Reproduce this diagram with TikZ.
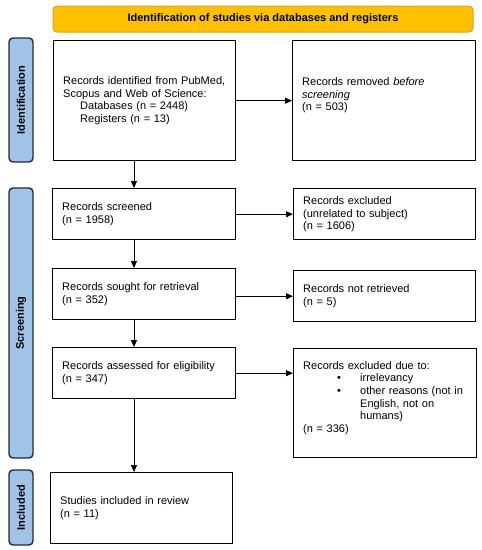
\documentclass[tikz,border=0pt]{standalone}
\usepackage{fontspec}
\setmainfont{Liberation Sans}
\usetikzlibrary{arrows.meta}
\definecolor{bannerfill}{HTML}{FFC000}
\definecolor{bannerdraw}{HTML}{D9A21B}
\definecolor{sidefill}{HTML}{A0C3E8}
\definecolor{sidedraw}{HTML}{1F2A38}
\begin{document}
\begin{tikzpicture}[x=1pt,y=-1pt,
  font=\fontsize{11}{12.6}\selectfont,
  box/.style={draw=black, line width=1.4pt, anchor=north west, align=left,
    inner xsep=9.5pt, inner ysep=2pt, minimum width=#1, text width=#1-19pt},
  side/.style={draw=sidedraw, fill=sidefill, line width=1.4pt, rounded corners=4pt,
    minimum width=24pt, inner sep=0pt, font=\fontsize{11}{12.6}\selectfont\bfseries},
  arr/.style={line width=0.9pt, -{Triangle[length=7pt,width=6pt]}}]
\useasboundingbox (0,0) rectangle (482,550);
% banner
\node[draw=bannerdraw, fill=bannerfill, line width=1pt, rounded corners=4pt,
  minimum width=420pt, minimum height=26pt, inner sep=0pt,
  font=\fontsize{11}{12.6}\selectfont\bfseries] (banner) at (263,19)
  {Identification of studies via databases and registers};
% side labels
\node[side, minimum height=124pt] (sid) at (21,100) {\rotatebox{90}{Identification}};
\node[side, minimum height=270pt] (ssc) at (21,323) {\rotatebox{90}{Screening}};
\node[side, minimum height=75pt] (sin) at (21,507.5) {\rotatebox{90}{Included}};
% boxes
\node[box=182pt, minimum height=120pt] (b1) at (53,40)
  {Records identified from PubMed,\\ Scopus and Web of Science:\\
   \hspace*{17pt}Databases (n = 2448)\\ \hspace*{17pt}Registers (n = 13)};
\node[box=183pt, minimum height=120pt] (b2) at (292,40)
  {Records removed \textit{before}\\ \textit{screening}\\ (n = 503)\\ \mbox{}};
\node[box=183pt, minimum height=51pt] (scr) at (52,188)
  {Records screened\\ (n = 1958)};
\node[box=182pt, minimum height=51pt] (exc) at (293,188)
  {Records excluded\\ (unrelated to subject)\\ (n = 1606)};
\node[box=183pt, minimum height=51pt] (sought) at (52,268)
  {Records sought for retrieval\\ (n = 352)};
\node[box=182pt, minimum height=51pt] (nret) at (293,270)
  {Records not retrieved\\ (n = 5)};
\node[box=183pt, minimum height=51pt] (asse) at (52,347)
  {Records assessed for eligibility\\ (n = 347)};
\node[box=183pt, minimum height=109pt] (excd) at (293,348)
  {Records excluded due to:\\
   \hspace*{34pt}\makebox[23pt][l]{\textbullet}irrelevancy\\
   \hspace*{34pt}\makebox[23pt][l]{\textbullet}other reasons (not in\\
   \hspace*{57pt}English, not on\\
   \hspace*{57pt}humans)\\
   (n = 336)\\ \mbox{}};
\node[box=182pt, minimum height=71pt] (incl) at (50,472)
  {Studies included in review\\ (n = 11)};
% connectors
\coordinate (col) at (134,0);
\draw[arr] (b1.east) -- (b2.west);
\draw[arr] (scr.east) -- (exc.west);
\draw[arr] (nret.west -| sought.east) -- (nret.west);
\draw[arr] (asse.east) -- (asse.east -| excd.west);
\draw[arr] (b1.south -| col) -- (scr.north -| col);
\draw[arr] (scr.south -| col) -- (sought.north -| col);
\draw[arr] (sought.south -| col) -- (asse.north -| col);
\draw[arr] (asse.south -| col) -- (incl.north -| col);
\end{tikzpicture}
\end{document}
